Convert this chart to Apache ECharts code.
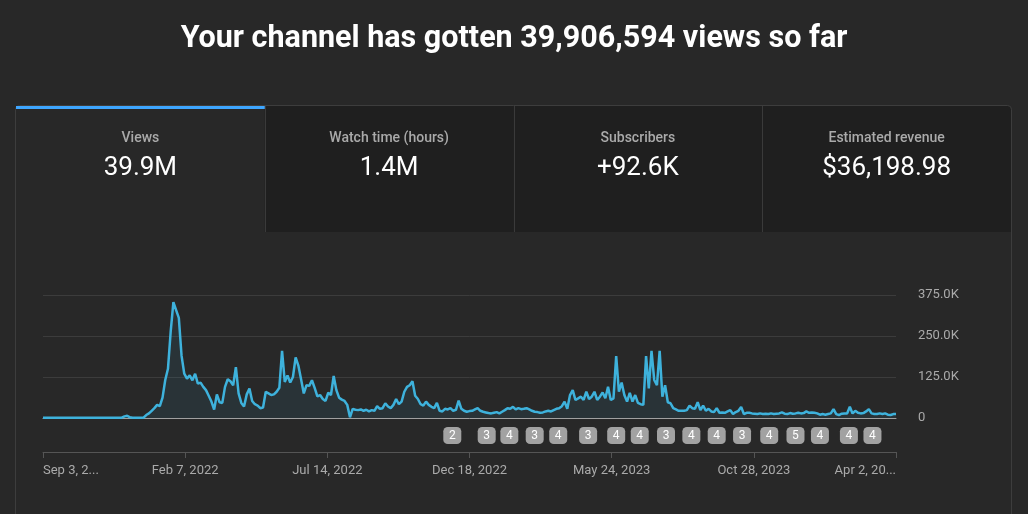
<!DOCTYPE html>
<html lang="en">
<head>
    <meta charset="UTF-8">
    <title>Channel views</title>
    <script src="https://cdn.jsdelivr.net/npm/echarts@6/dist/echarts.min.js"></script>
    <style>
        body { margin: 0; background: #282828; }
        #main { width: 1028px; height: 514px; }
    </style>
</head>
<body>
    <div id="main"></div>
    <script>
        // views in thousands, one value every 3 days starting Sep 3, 2021
        let views = [
            1, 1, 1, 1, 1, 1, 1, 1, 1, 1,
            1, 1, 1, 1, 1, 1, 1, 1, 1, 1,
            1, 1, 1, 1, 1, 1, 1, 1, 1, 1,
            5, 7, 2, 1, 1, 1, 1, 1, 9, 14,
            22, 30, 40, 36, 62, 116, 150, 263, 353, 329,
            305, 190, 135, 120, 130, 115, 135, 105, 108, 95,
            85, 68, 50, 26, 72, 48, 46, 95, 118, 112,
            100, 155, 75, 46, 35, 72, 90, 52, 42, 38,
            30, 32, 80, 75, 70, 72, 80, 92, 205, 110,
            130, 108, 125, 185, 160, 118, 75, 100, 98, 115,
            92, 66, 70, 58, 52, 77, 70, 128, 85, 62,
            56, 52, 40, 2, 28, 25, 24, 26, 22, 25,
            20, 24, 22, 36, 28, 30, 45, 35, 30, 40,
            58, 42, 50, 80, 95, 100, 112, 68, 58, 42,
            38, 50, 40, 34, 30, 46, 22, 20, 28, 26,
            30, 22, 25, 53, 28, 22, 19, 21, 22, 26,
            30, 22, 19, 17, 15, 14, 16, 18, 14, 19,
            24, 30, 28, 34, 26, 30, 27, 28, 30, 26,
            22, 19, 18, 16, 17, 20, 22, 20, 24, 28,
            30, 36, 50, 28, 70, 85, 55, 60, 65, 55,
            80, 58, 65, 80, 55, 65, 78, 60, 95, 55,
            60, 189, 80, 108, 70, 50, 77, 50, 70, 46,
            42, 40, 189, 90, 205, 116, 100, 205, 65, 100,
            48, 45, 30, 26, 22, 22, 22, 24, 38, 30,
            28, 48, 24, 38, 22, 28, 20, 18, 30, 16,
            17, 16, 20, 24, 12, 18, 22, 34, 12, 16,
            16, 14, 13, 12, 14, 12, 13, 12, 14, 12,
            13, 14, 17, 13, 12, 15, 13, 14, 16, 14,
            15, 20, 16, 17, 16, 14, 10, 12, 10, 12,
            14, 27, 12, 9, 13, 14, 14, 34, 14, 22,
            16, 14, 15, 20, 27, 14, 12, 12, 14, 12,
            14, 10, 9, 12, 12
        ];
        let dayStep = 3;
        let totalDays = 942;
        let dayInterval = 157;
        let xLabels = ['Sep 3, 2...', 'Feb 7, 2022', 'Jul 14, 2022', 'Dec 18, 2022', 'May 24, 2023', 'Oct 28, 2023', 'Apr 2, 20...'];
        let yLabels = ['0', '125.0K', '250.0K', '375.0K'];

        // the little grey boxes under the chart (day offset, number shown)
        let markerDays = [452, 490, 515, 543, 569, 602, 633, 659, 688, 716, 744, 772, 802, 831, 858, 890, 916];
        let markerCounts = [2, 3, 4, 3, 4, 3, 4, 4, 3, 4, 4, 3, 4, 5, 4, 4, 4];

        let tabNames = ['Views', 'Watch time (hours)', 'Subscribers', 'Estimated revenue'];
        let tabValues = ['39.9M', '1.4M', '+92.6K', '$36,198.98'];
        let titleText = 'Your channel has gotten 39,906,594 views so far';

        let lineData = views.map((v, i) => [i * dayStep, v]);
        let markerData = markerDays.map((d, i) => [d, 1, markerCounts[i]]);

        // tabs on top of the card
        let cardLeft = 16, cardRight = 1011, tabTop = 106, tabBottom = 232;
        let tabW = (cardRight - cardLeft) / 4;
        let graphics = [];
        tabNames.forEach((name, i) => {
            let x0 = cardLeft + i * tabW;
            if (i > 0) {
                graphics.push({
                    type: 'rect',
                    shape: { x: x0, y: tabTop, width: tabW, height: tabBottom - tabTop },
                    style: { fill: '#1f1f1f' },
                    z: 1
                });
                graphics.push({
                    type: 'line',
                    shape: { x1: Math.round(x0) + 0.5, y1: tabTop, x2: Math.round(x0) + 0.5, y2: tabBottom },
                    style: { stroke: '#3a3a3a', lineWidth: 1 },
                    z: 2
                });
            }
            graphics.push({
                type: 'text',
                style: { text: name, x: x0 + tabW / 2, y: 138, align: 'center', verticalAlign: 'middle', textAlign: 'center', textVerticalAlign: 'middle', fill: '#aaaaaa', font: '500 14px Roboto' },
                z: 3
            });
            graphics.push({
                type: 'text',
                style: { text: tabValues[i], x: x0 + tabW / 2, y: 168, align: 'center', verticalAlign: 'middle', textAlign: 'center', textVerticalAlign: 'middle', fill: '#ffffff', font: '26px Roboto' },
                z: 3
            });
        });
        // card outline
        graphics.push({
            type: 'rect',
            shape: { x: cardLeft - 0.5, y: tabTop - 0.5, width: cardRight - cardLeft + 1, height: 440, r: 4 },
            style: { fill: null, stroke: '#3d3d3d', lineWidth: 1 },
            z: 2
        });
        // blue bar over the selected tab
        graphics.push({
            type: 'rect',
            shape: { x: cardLeft, y: tabTop, width: tabW, height: 3 },
            style: { fill: '#3ea6ff' },
            z: 4
        });
        graphics.push({
            type: 'text',
            style: { text: titleText, x: 514, y: 39, align: 'center', verticalAlign: 'middle', textAlign: 'center', textVerticalAlign: 'middle', fill: '#ffffff', font: 'bold 30.5px Roboto' },
            z: 3
        });

        let myChart = echarts.init(document.getElementById('main'));
        let option = {
            backgroundColor: '#282828',
            animation: false,
            textStyle: { fontFamily: 'Roboto' },
            graphic: graphics,
            grid: [
                { left: 43, right: 132, top: 295, height: 123, outerBoundsMode: 'none' },
                { left: 43, right: 132, top: 419, height: 33, outerBoundsMode: 'none' }
            ],
            xAxis: [
                {
                    gridIndex: 0, type: 'value', min: 0, max: totalDays,
                    axisLine: { show: true, lineStyle: { color: '#a0a0a0', width: 1 } },
                    axisTick: { show: false }, axisLabel: { show: false }, splitLine: { show: false }
                },
                {
                    gridIndex: 1, type: 'value', min: 0, max: totalDays, interval: dayInterval,
                    axisLine: { show: true, lineStyle: { color: '#555555', width: 1 } },
                    axisTick: { show: true, length: 6, lineStyle: { color: '#555555' } },
                    splitLine: { show: false },
                    axisLabel: {
                        color: '#aaaaaa', fontSize: 13, margin: 12,
                        alignMinLabel: 'left', alignMaxLabel: 'right',
                        formatter: v => xLabels[Math.round(v / dayInterval)]
                    }
                }
            ],
            yAxis: [
                {
                    gridIndex: 0, type: 'value', position: 'right', min: 0, max: 375, interval: 125,
                    axisLine: { show: false }, axisTick: { show: false },
                    splitLine: { lineStyle: { color: '#3c3c3c', width: 1 } },
                    axisLabel: { color: '#aaaaaa', fontSize: 13, margin: 22, formatter: v => yLabels[Math.round(v / 125)] }
                },
                { gridIndex: 1, type: 'value', min: 0, max: 2, show: false }
            ],
            series: [
                {
                    name: 'Views', type: 'line', xAxisIndex: 0, yAxisIndex: 0,
                    data: lineData, showSymbol: false,
                    lineStyle: { color: '#3eb2dc', width: 2.5 },
                    itemStyle: { color: '#3eb2dc' },
                    areaStyle: { color: 'rgba(62,178,220,0.12)' }
                },
                {
                    type: 'scatter', xAxisIndex: 1, yAxisIndex: 1,
                    data: markerData, symbol: 'roundRect', symbolSize: [18, 17],
                    itemStyle: { color: '#a2a2a2', opacity: 1 },
                    label: { show: true, position: 'inside', color: '#ffffff', fontSize: 12, formatter: p => p.data[2] }
                }
            ]
        };
        myChart.setOption(option);
    </script>
</body>
</html>
